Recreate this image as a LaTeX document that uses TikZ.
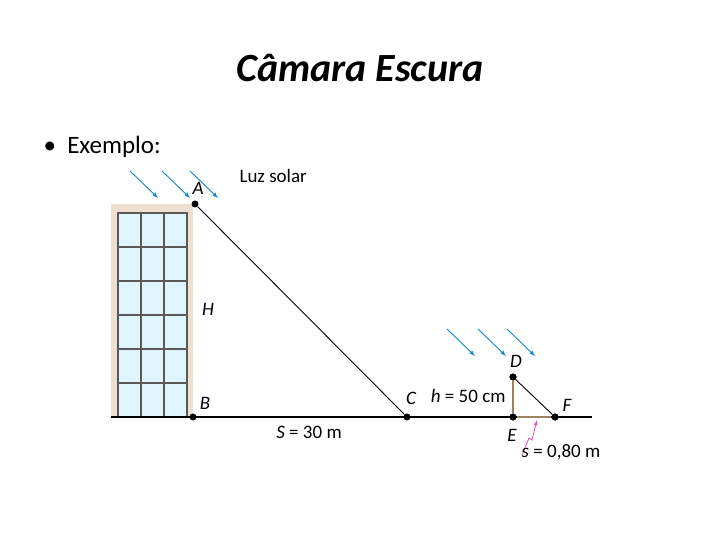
\documentclass[tikz,border=0pt]{standalone}
\usepackage{fontspec}
\setmainfont{Carlito}
\begin{document}
\begin{tikzpicture}[x=1pt,y=-1pt,
  dot/.style={circle,fill=black,inner sep=0pt,minimum size=7pt},
  lbl/.style={font=\fontsize{19}{22}\selectfont},
  ray/.style={draw=cyan!70!blue,line width=0.9pt,-latex},
  frame/.style={draw=gray!70!black,line width=2pt}]
\useasboundingbox (0,0) rectangle (720,540);
\node[font=\fontsize{40}{44}\selectfont\bfseries\itshape] (title) at (360,68) {Câmara Escura};
\node[anchor=west,font=\fontsize{25}{28}\selectfont] (ex) at (40,147) {•\ \ Exemplo:};
% building
\fill[brown!25!white] (111,204) rectangle (193,417);
\fill[cyan!12!white] (118,213) rectangle (187,417);
\draw[frame] (118,213) rectangle (187,417);
\foreach \x in {141,164} \draw[frame] (\x,213) -- (\x,417);
\foreach \y in {247,281,315,349,383} \draw[frame] (118,\y) -- (187,\y);
% points
\node[dot] (A) at (195,204) {};
\node[dot] (B) at (193,417) {};
\node[dot] (C) at (407,417) {};
\node[dot] (D) at (513,377) {};
\node[dot] (E) at (513,417) {};
\node[dot] (F) at (555,417) {};
\coordinate (g0) at (111,417);
\coordinate (g1) at (592,417);
\draw[line width=1.2pt] (g0) -- (g1);
\draw[line width=0.9pt] (A) -- (C);
\draw[line width=0.9pt] (D) -- (F);
\draw[brown!50!gray,line width=2.5pt] (D) -- (E);
\draw[brown!50!gray,line width=1.5pt] (E) -- (F);
\node[dot] at (D) {};\node[dot] at (E) {};\node[dot] at (F) {};
% rays
\foreach \a/\b in {130/171,162/171,190/171,447/329,478/329,507/329}
  \draw[ray] (\a,\b) -- ++(28,27);
% pink arrow
\coordinate (p0) at (522,455);
\coordinate (p1) at (537,420);
\draw[magenta!70,line width=0.8pt,-latex] (p0) -- (529,438) -- (532,440) -- (p1);
% labels
\node[lbl,anchor=west] (luz) at (236,176) {Luz solar};
\node[lbl] (la) at (198,188) {\itshape A};
\node[lbl] (lh) at (208,309) {\itshape H};
\node[lbl] (lb) at (205,403) {\itshape B};
\node[lbl] (lc) at (411,398) {\itshape C};
\node[lbl,anchor=east] (lhh) at (509,396) {\textit{h} = 50 cm};
\node[lbl] (ld) at (516,361) {\itshape D};
\node[lbl] (lf) at (567,405) {\itshape F};
\node[lbl] (le) at (512,435) {\itshape E};
\node[lbl] (ls) at (309,432) {\textit{S} = 30 m};
\node[lbl] (lss) at (561,452) {\textit{s} = 0,80 m};
\end{tikzpicture}
\end{document}
